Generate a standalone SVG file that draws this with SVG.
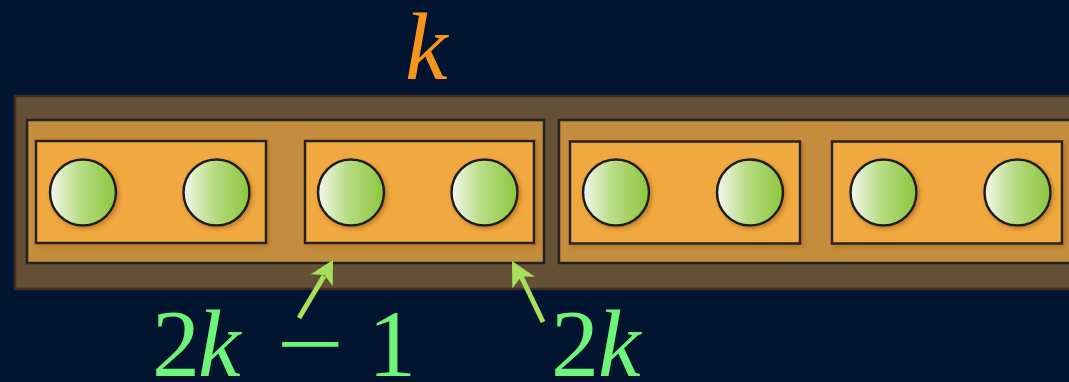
<svg xmlns="http://www.w3.org/2000/svg" width="1069" height="382" viewBox="0 0 1069 382">
<defs>
<linearGradient id="ball" x1="0" y1="0" x2="1" y2="0">
<stop offset="0" stop-color="#f4f8ee"/>
<stop offset="0.45" stop-color="#b8dc84"/>
<stop offset="1" stop-color="#8cc63e"/>
</linearGradient>
<filter id="sh" x="-20%" y="-20%" width="140%" height="140%">
<feDropShadow dx="2" dy="2" stdDeviation="2" flood-color="#a86a1c" flood-opacity="0.7"/>
</filter>
</defs>
<style>
.outer{fill:#655035;stroke:#3a2f22;stroke-width:2.5}
.mid{fill:#c48d3e;stroke:#222222;stroke-width:2.5}
.inner{fill:#f0a840;stroke:#222222;stroke-width:2.5;filter:url(#sh)}
.ball{fill:url(#ball);stroke:#1e1e1e;stroke-width:2.5;filter:url(#sh)}
.arr{stroke:#a6e05c;stroke-width:5;fill:none}
.head{fill:#a6e05c}
.lbl{font-family:"Liberation Serif","DejaVu Serif",serif;font-size:96px;fill:#6ff47a}
.it{font-style:italic}
</style>
<rect width="1069" height="382" fill="#011530"/>
<g id="array">
<rect class="outer" x="15" y="96" width="1070" height="193"/>
</g>
<g id="block1">
<rect class="mid" x="27" y="120" width="517" height="143"/>
</g>
<g id="block2">
<rect class="mid" x="559" y="120" width="520" height="143"/>
</g>
<g id="pair1">
<rect class="inner" x="36" y="141" width="230" height="102"/>
<circle class="ball" cx="83" cy="192.5" r="33"/>
<circle class="ball" cx="216.5" cy="192.5" r="33"/>
</g>
<g id="pair2">
<rect class="inner" x="305" y="141" width="229" height="102"/>
<circle class="ball" cx="351" cy="192.5" r="33"/>
<circle class="ball" cx="484.5" cy="192.5" r="33"/>
</g>
<g id="pair3">
<rect class="inner" x="570" y="141.5" width="230" height="102"/>
<circle class="ball" cx="616" cy="192.5" r="33"/>
<circle class="ball" cx="750" cy="192.5" r="33"/>
</g>
<g id="pair4">
<rect class="inner" x="832" y="141.5" width="230" height="102"/>
<circle class="ball" cx="883.5" cy="192.5" r="33"/>
<circle class="ball" cx="1017.5" cy="192.5" r="33"/>
</g>
<g id="connectors">
<line class="arr" x1="299" y1="318" x2="324" y2="276"/>
<path class="head" d="M333,260 L332.7,286 L324.5,275 L310.7,274.3 Z"/>
<line class="arr" x1="543" y1="322" x2="521" y2="276"/>
<path class="head" d="M512,261 L535,276.7 L521.5,276.5 L512.3,288.3 Z"/>
</g>
<g id="labels">
<text class="lbl it" x="405" y="79" style="fill:#f7941d">k</text>
<text class="lbl" y="376"><tspan x="152">2</tspan><tspan class="it" x="198">k</tspan></text>
<text class="lbl" x="276" y="376" textLength="68" lengthAdjust="spacingAndGlyphs">−</text>
<text class="lbl" x="368" y="376">1</text>
<text class="lbl" y="376"><tspan x="551">2</tspan><tspan class="it" x="598">k</tspan></text>
</g>
</svg>
